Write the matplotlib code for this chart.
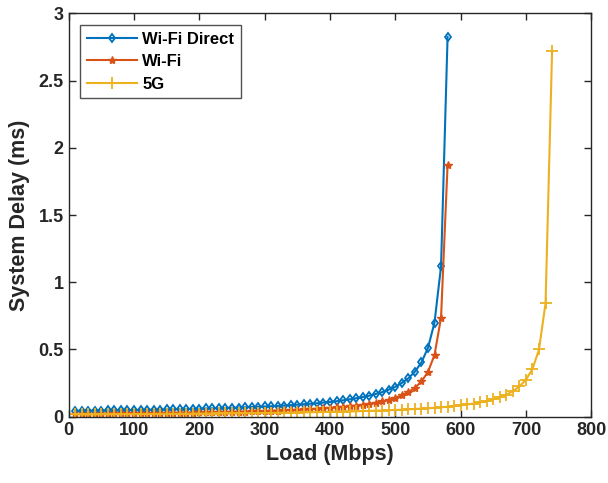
import numpy as np
import matplotlib
matplotlib.use("Agg")
import matplotlib.pyplot as plt

plt.rcParams['font.family'] = ['Liberation Sans', 'DejaVu Sans']
plt.rcParams['font.weight'] = 'bold'

load_wifi = list(range(10, 581, 10))
load_5g = list(range(10, 741, 10))

delay_wifi_direct = [
    0.044, 0.044, 0.045, 0.046, 0.046, 0.047, 0.047, 0.048, 0.049, 0.050,
    0.050, 0.051, 0.052, 0.053, 0.054, 0.055, 0.056, 0.057, 0.058, 0.059,
    0.061, 0.062, 0.063, 0.065, 0.066, 0.068, 0.070, 0.072, 0.074, 0.076,
    0.078, 0.080, 0.083, 0.086, 0.089, 0.093, 0.096, 0.100, 0.105, 0.110,
    0.115, 0.122, 0.129, 0.137, 0.146, 0.156, 0.169, 0.183, 0.201, 0.223,
    0.251, 0.286, 0.335, 0.404, 0.512, 0.700, 1.118, 2.825,
]

delay_wifi = [
    0.021, 0.022, 0.022, 0.022, 0.023, 0.023, 0.024, 0.024, 0.025, 0.025,
    0.026, 0.026, 0.027, 0.027, 0.028, 0.029, 0.029, 0.030, 0.031, 0.032,
    0.032, 0.033, 0.034, 0.035, 0.036, 0.037, 0.038, 0.040, 0.041, 0.042,
    0.044, 0.046, 0.047, 0.049, 0.051, 0.054, 0.056, 0.059, 0.062, 0.065,
    0.069, 0.073, 0.078, 0.083, 0.089, 0.096, 0.104, 0.114, 0.126, 0.141,
    0.159, 0.183, 0.215, 0.262, 0.333, 0.459, 0.737, 1.871,
]

delay_5g = [
    0.017, 0.017, 0.017, 0.017, 0.018, 0.018, 0.018, 0.018, 0.019, 0.019,
    0.019, 0.020, 0.020, 0.020, 0.021, 0.021, 0.021, 0.022, 0.022, 0.023,
    0.023, 0.023, 0.024, 0.024, 0.025, 0.025, 0.026, 0.026, 0.027, 0.028,
    0.028, 0.029, 0.030, 0.030, 0.031, 0.032, 0.033, 0.034, 0.035, 0.036,
    0.037, 0.038, 0.039, 0.040, 0.042, 0.043, 0.045, 0.046, 0.048, 0.050,
    0.052, 0.055, 0.057, 0.060, 0.063, 0.066, 0.070, 0.074, 0.079, 0.085,
    0.091, 0.098, 0.107, 0.117, 0.130, 0.145, 0.164, 0.190, 0.225, 0.275,
    0.355, 0.500, 0.844, 2.720,
]

x_ticks = [0, 100, 200, 300, 400, 500, 600, 700, 800]
y_ticks = [0, 0.5, 1, 1.5, 2, 2.5, 3]
y_tick_labels = ['0', '0.5', '1', '1.5', '2', '2.5', '3']

fig = plt.figure(figsize=(6.08, 4.83), dpi=100)
ax = fig.add_axes([0.113, 0.1373, 0.8595, 0.835])

c1, c2, c3 = '#0072BD', '#D95319', '#EDB120'
ax.plot(load_wifi, delay_wifi_direct, color=c1, lw=1.5, marker='d', ms=4.5,
        mfc='none', mew=1.3, label='Wi-Fi Direct')
ax.plot(load_wifi, delay_wifi, color=c2, lw=1.5, marker='*', ms=6,
        mew=1.0, label='Wi-Fi')
ax.plot(load_5g, delay_5g, color=c3, lw=1.5, marker='+', ms=9,
        mew=1.3, label='5G')

ax.set_xlim(0, 800)
ax.set_ylim(0, 3)
ax.set_xticks(x_ticks)
ax.set_xticklabels([str(v) for v in x_ticks])
ax.set_yticks(y_ticks)
ax.set_yticklabels(y_tick_labels)
ax.tick_params(direction='in', top=True, right=True, labelsize=13,
               length=5, width=1, colors='#262626')
for lab in ax.get_xticklabels() + ax.get_yticklabels():
    lab.set_fontweight('bold')
for s in ax.spines.values():
    s.set_color('#262626')
    s.set_linewidth(1)

ax.set_xlabel('Load (Mbps)', fontsize=15.5, fontweight='bold', color='#262626', labelpad=4)
ax.set_ylabel('System Delay (ms)', fontsize=15.5, fontweight='bold', color='#262626', labelpad=6)

leg = ax.legend(loc='upper left', fontsize=12, frameon=True, fancybox=False,
                edgecolor='#262626', borderpad=0.4, handlelength=3.0,
                handletextpad=0.3, labelspacing=0.45, borderaxespad=0.7)
leg.get_frame().set_linewidth(1)
for t in leg.get_texts():
    t.set_fontweight('bold')

fig.savefig('out.png', dpi=100)
